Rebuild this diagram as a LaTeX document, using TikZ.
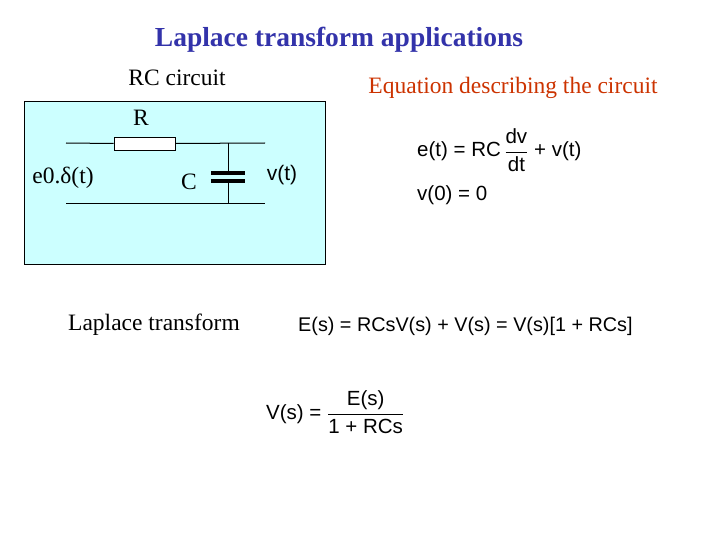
\documentclass[tikz,border=0pt]{standalone}
\usepackage{fontspec}
\setmainfont{Liberation Serif}
\newfontfamily\arial{Liberation Sans}
\usepackage{amsmath}
\begin{document}
\begin{tikzpicture}[x=1pt,y=-1pt,
  lbl/.style={inner sep=0pt,anchor=center},
  wire/.style={line width=1pt}]
\definecolor{titleblue}{RGB}{51,51,170}
\definecolor{eqred}{RGB}{204,51,0}
\definecolor{boxcyan}{RGB}{204,255,255}
\useasboundingbox (0,0) rectangle (720,540);
\fill[white] (0,0) rectangle (720,540);
\node[lbl,text=titleblue,font=\fontsize{27.5}{32}\selectfont\bfseries] (title) at (339,40) {Laplace transform applications};
\node[lbl,font=\fontsize{23.5}{28}\selectfont] (rc) at (177,78) {RC circuit};
\node[lbl,text=eqred,font=\fontsize{23.5}{28}\selectfont] (eqh) at (513,88) {Equation describing the circuit};
\draw[fill=boxcyan,line width=1pt] (24,102) rectangle (325,264);
\coordinate (tl) at (66,143); \coordinate (tr) at (265,143);
\coordinate (bl) at (66,204); \coordinate (br) at (265,204);
\node[draw,fill=white,minimum width=61pt,minimum height=13pt,inner sep=0pt,line width=0.8pt] (res) at (144.5,143.5) {};
\draw[wire] (tl) -- (res.west); \draw[wire] (res.east) -- (tr);
\draw[wire] (bl) -- (br);
\coordinate (ct) at (228,143); \coordinate (cb) at (228,204);
\coordinate (p1) at (228,173.5); \coordinate (p2) at (228,181.5);
\draw[wire] (ct) -- (p1); \draw[wire] (p2) -- (cb);
\draw[line width=4pt] ([xshift=-17pt]p1) -- ([xshift=17pt]p1);
\draw[line width=4pt] ([xshift=-17pt]p2) -- ([xshift=17pt]p2);
\node[lbl,font=\fontsize{23.5}{28}\selectfont] (R) at (141,118) {R};
\node[lbl,font=\fontsize{23.5}{28}\selectfont] (e0) at (63,178) {e0.δ(t)};
\node[lbl,font=\fontsize{23.5}{28}\selectfont] (C) at (189,182) {C};
\node[lbl,font=\arial\fontsize{21}{25}\selectfont] (vt) at (282,175) {v(t)};
\node[lbl,font=\arial\fontsize{20.5}{24}\selectfont,anchor=west] (eq1) at (417,150) {e(t) = RC$\,$\raisebox{-0.1ex}{$\dfrac{\text{dv}}{\text{dt}}$} + v(t)};
\node[lbl,font=\arial\fontsize{20.5}{24}\selectfont,anchor=west] (eq2) at (417,195) {v(0) = 0};
\node[lbl,font=\fontsize{23.5}{28}\selectfont] (lt) at (154,325) {Laplace transform};
\node[lbl,font=\arial\fontsize{19.8}{24}\selectfont,anchor=west] (eq3) at (298,326) {E(s) = RCsV(s) + V(s) = V(s)[1 + RCs]};
\node[lbl,font=\arial\fontsize{20.5}{24}\selectfont,anchor=west] (eq4) at (266,412) {V(s) = $\dfrac{\text{E(s)}}{\text{1 + RCs}}$};
\end{tikzpicture}
\end{document}
